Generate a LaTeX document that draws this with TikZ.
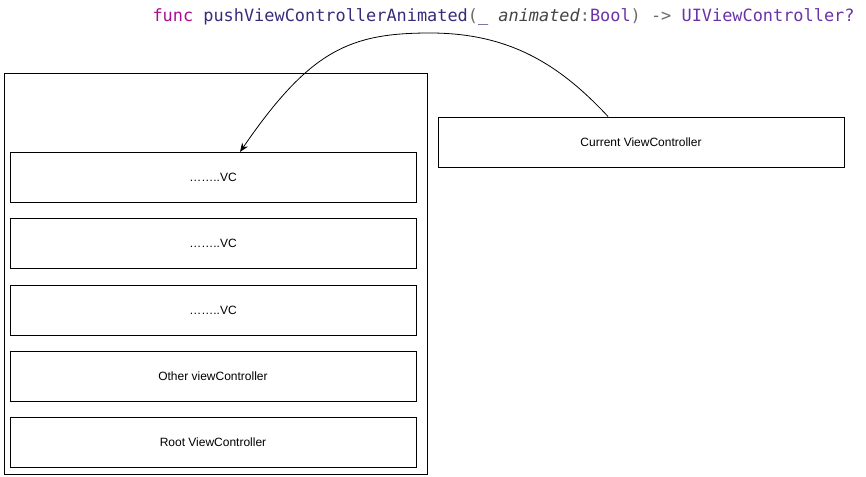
\documentclass[tikz,border=0pt]{standalone}
\usepackage{fontspec}
\setmainfont{Liberation Sans}
\newfontfamily\codefont{DejaVu Sans Mono}
\usepackage{tikz}
\usetikzlibrary{positioning}
\usetikzlibrary{arrows.meta}

\definecolor{kwpink}{HTML}{AA0D91}
\definecolor{fnpurple}{HTML}{3A2A7A}
\definecolor{typepurple}{HTML}{6A33A8}
\definecolor{codegray}{HTML}{6B6B6B}
\definecolor{paramgray}{HTML}{444444}

\begin{document}
\begin{tikzpicture}[x=1pt,y=-1pt,line width=1pt,
    vcbox/.style={draw,minimum width=406pt,minimum height=50pt,inner sep=0pt,
      font=\fontsize{12}{14}\selectfont}]
    \useasboundingbox (0,0) rectangle (866,476);

    % the signature on top
    \node[anchor=base west,inner sep=0pt,font=\codefont\fontsize{16.9}{20}\selectfont] (sig) at (152,21.5)
      {\textcolor{kwpink}{func} \textcolor{fnpurple}{pushViewControllerAnimated}\textcolor{codegray}{(}\textcolor{fnpurple}{\_} \textcolor{paramgray}{\itshape animated}\textcolor{codegray}{:}\textcolor{typepurple}{Bool}\textcolor{codegray}{) ->} \textcolor{typepurple}{UIViewController?}};

    % navigation stack
    \node[draw,minimum width=423pt,minimum height=400pt] (stack) at (215.5,274) {};
    \node[vcbox] (vctop)   at (213,177.5) {……..VC};
    \node[vcbox] (vcmid)   at (213,243.5) {……..VC};
    \node[vcbox] (vclow)   at (213,310)   {……..VC};
    \node[vcbox] (vcother) at (213,376.5) {Other viewController};
    \node[vcbox] (vcroot)  at (213,442.5) {Root ViewController};

    \node[vcbox] (current) at (641,142) {Current ViewController};

    % push arrow
    \coordinate (peak) at (430,33);
    \draw[line width=0.8pt,-{Stealth[length=9pt,width=7pt]}]
      ([xshift=-33pt]current.north) .. controls (560,65) and (510,33) .. (peak)
      .. controls (350,33) and (310,50) .. ([xshift=27pt]vctop.north);
\end{tikzpicture}
\end{document}
